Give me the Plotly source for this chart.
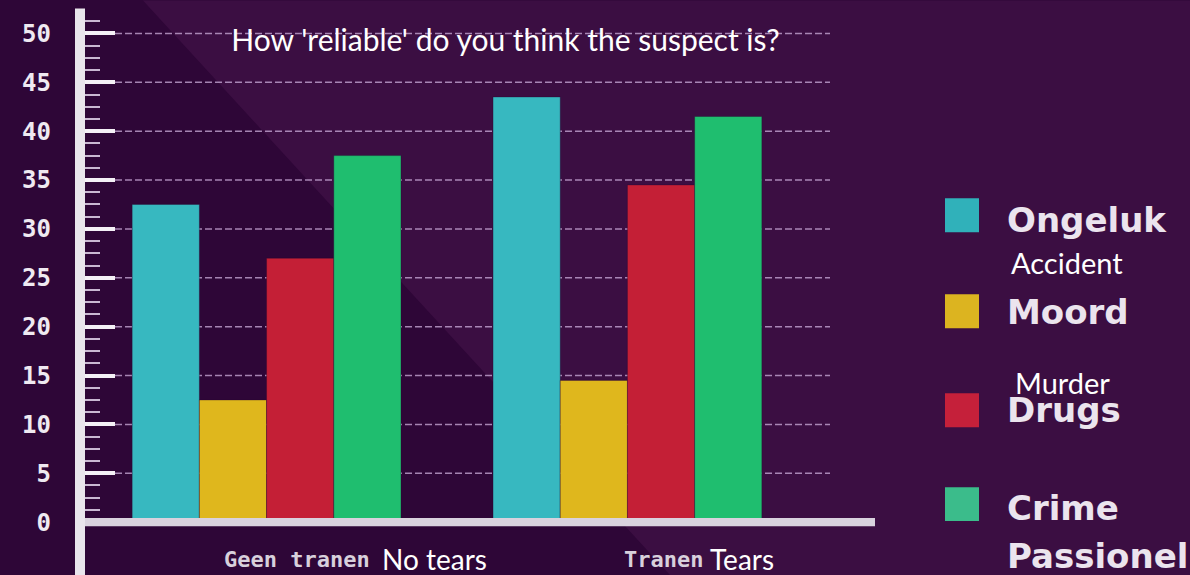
import plotly.graph_objects as go

# ---------------- data ----------------
categories = ["Geen tranen", "Tranen"]
categories_en = ["No tears", "Tears"]
series_names = ["Ongeluk", "Moord", "Drugs", "Crime Passionel"]
series_en = ["Accident", "Murder", "", ""]
ongeluk = [32.5, 43.5]
moord = [12.5, 14.5]
drugs = [27.0, 34.5]
crime_passionel = [37.5, 41.5]
series_values = [ongeluk, moord, drugs, crime_passionel]
y_ticks = [0, 5, 10, 15, 20, 25, 30, 35, 40, 45, 50]
title_text = "How 'reliable' do you think the suspect is?"

# ---------------- style ----------------
bar_colors = ["#37b8c0", "#dfb71d", "#c41f36", "#1fbe6f"]
legend_colors = ["#30b1ba", "#dcb420", "#c5203a", "#3bbc8b"]
BG_DARK = "#2e0637"
BG_LIGHT = "#3b0e42"
W, H = 1190, 575
L, R, T, B = 80, 315, 8.5, 48.1
PW, PH = W - L - R, H - T - B


def px2x(px):
    return (px - L) / PW


def px2y(py):
    return (H - B - py) / PH


fig = go.Figure()
for name, vals, col in zip(series_names, series_values, bar_colors):
    fig.add_trace(go.Bar(
        x=list(range(len(categories))), y=vals, name=name,
        marker=dict(color=col, line=dict(color="rgba(40,10,50,0.35)", width=1)),
        showlegend=False, hoverinfo="y+name"))

shapes = []
# lighter diagonal background region
shapes.append(dict(type="path", xref="paper", yref="paper", layer="below",
                   path=f"M {px2x(143)} {px2y(0)} L {px2x(670)} {px2y(575)} "
                        f"L {px2x(1190)} {px2y(575)} L {px2x(1190)} {px2y(0)} Z",
                   fillcolor=BG_LIGHT, line=dict(width=0)))
# dashed gridlines
for v in y_ticks[1:]:
    shapes.append(dict(type="line", xref="paper", yref="y", layer="below",
                       x0=px2x(85), x1=px2x(830), y0=v, y1=v,
                       line=dict(color="rgba(205,175,220,0.75)", width=1.5, dash="7px,3px")))
# baseline stripe
shapes.append(dict(type="rect", xref="paper", yref="y", layer="above",
                   x0=px2x(85), x1=px2x(875), y0=-0.42, y1=0.42,
                   fillcolor="#d9d2de", line=dict(width=0)))
# vertical axis bar
shapes.append(dict(type="rect", xref="paper", yref="paper", layer="above",
                   x0=px2x(75), x1=px2x(85), y0=px2y(575), y1=px2y(8),
                   fillcolor="#e9e5ec", line=dict(width=0)))

annotations = []
# category labels (Dutch pixel-ish + English)
cat_nl_shift = [-44.5, -5.5]
cat_en_shift = [113.5, 80.5]
for i, (nl, en) in enumerate(zip(categories, categories_en)):
    annotations.append(dict(x=i, xref="x", y=0, yref="paper", text=nl, showarrow=False,
                            xanchor="left", yanchor="middle", xshift=cat_nl_shift[i], yshift=-32,
                            font=dict(family="DejaVu Sans Mono", size=22, color="#d8d0dc", weight="bold")))
    annotations.append(dict(x=i, xref="x", y=0, yref="paper", text=en, showarrow=False,
                            xanchor="left", yanchor="middle", xshift=cat_en_shift[i], yshift=-32,
                            font=dict(family="Lato", size=28, color="#ffffff")))

# manual legend
sq_tops = [198, 294, 393, 487]
txt_cy = [217, 309, 407, 505]
en_cy = [260, 380]
for i, (name, col) in enumerate(zip(series_names, legend_colors)):
    shapes.append(dict(type="rect", xref="paper", yref="paper",
                       x0=px2x(945), x1=px2x(979), y0=px2y(sq_tops[i] + 34), y1=px2y(sq_tops[i]),
                       fillcolor=col, line=dict(width=0)))
    words = name.split(" ")
    lines = [words[0]] if len(words) == 1 else words
    for j, line in enumerate(lines):
        annotations.append(dict(x=px2x(1005), xref="paper", y=px2y(txt_cy[i] + 3 + 48 * j), yref="paper",
                                text=line, showarrow=False, xanchor="left", yanchor="middle",
                                font=dict(family="DejaVu Sans", size=34, color="#ebe4ee", weight="bold")))
    if series_en[i]:
        annotations.append(dict(x=px2x(1009 if i == 0 else 1013), xref="paper", y=px2y(en_cy[i] + 2),
                                yref="paper", text=series_en[i], showarrow=False,
                                xanchor="left", yanchor="middle",
                                font=dict(family="Lato", size=29, color="#ffffff")))

fig.update_layout(
    width=W, height=H,
    margin=dict(l=L, r=R, t=T, b=B),
    paper_bgcolor=BG_DARK, plot_bgcolor="rgba(0,0,0,0)",
    barmode="group", bargap=0.255, bargroupgap=0,
    title=dict(text=title_text, x=505.5 / W, xanchor="center", y=1 - 40 / H, yanchor="middle",
               font=dict(family="Lato", size=30, color="#ffffff")),
    shapes=shapes, annotations=annotations,
    xaxis=dict(range=[-0.517, 1.686], showticklabels=False, showgrid=False, zeroline=False,
               showline=False, ticks=""),
    yaxis=dict(range=[-0.5, 52.5], tickvals=y_ticks, showgrid=False, zeroline=False, showline=False,
               ticks="inside", ticklen=35, tickwidth=3.5, tickcolor="#f4f0f6",
               ticklabelstandoff=28,
               tickfont=dict(family="DejaVu Sans Mono", size=24, color="#efe9f1", weight="bold"),
               minor=dict(dtick=1.25, ticks="inside", ticklen=20, tickwidth=1.5, tickcolor="#c9b8d2")),
)

fig.write_html(
    "out.html",
    config={"displayModeBar": False},
    post_script="document.body.style.margin='0';document.body.style.padding='0';"
                "document.body.style.overflow='hidden';document.body.style.background='" + BG_DARK + "';",
)
